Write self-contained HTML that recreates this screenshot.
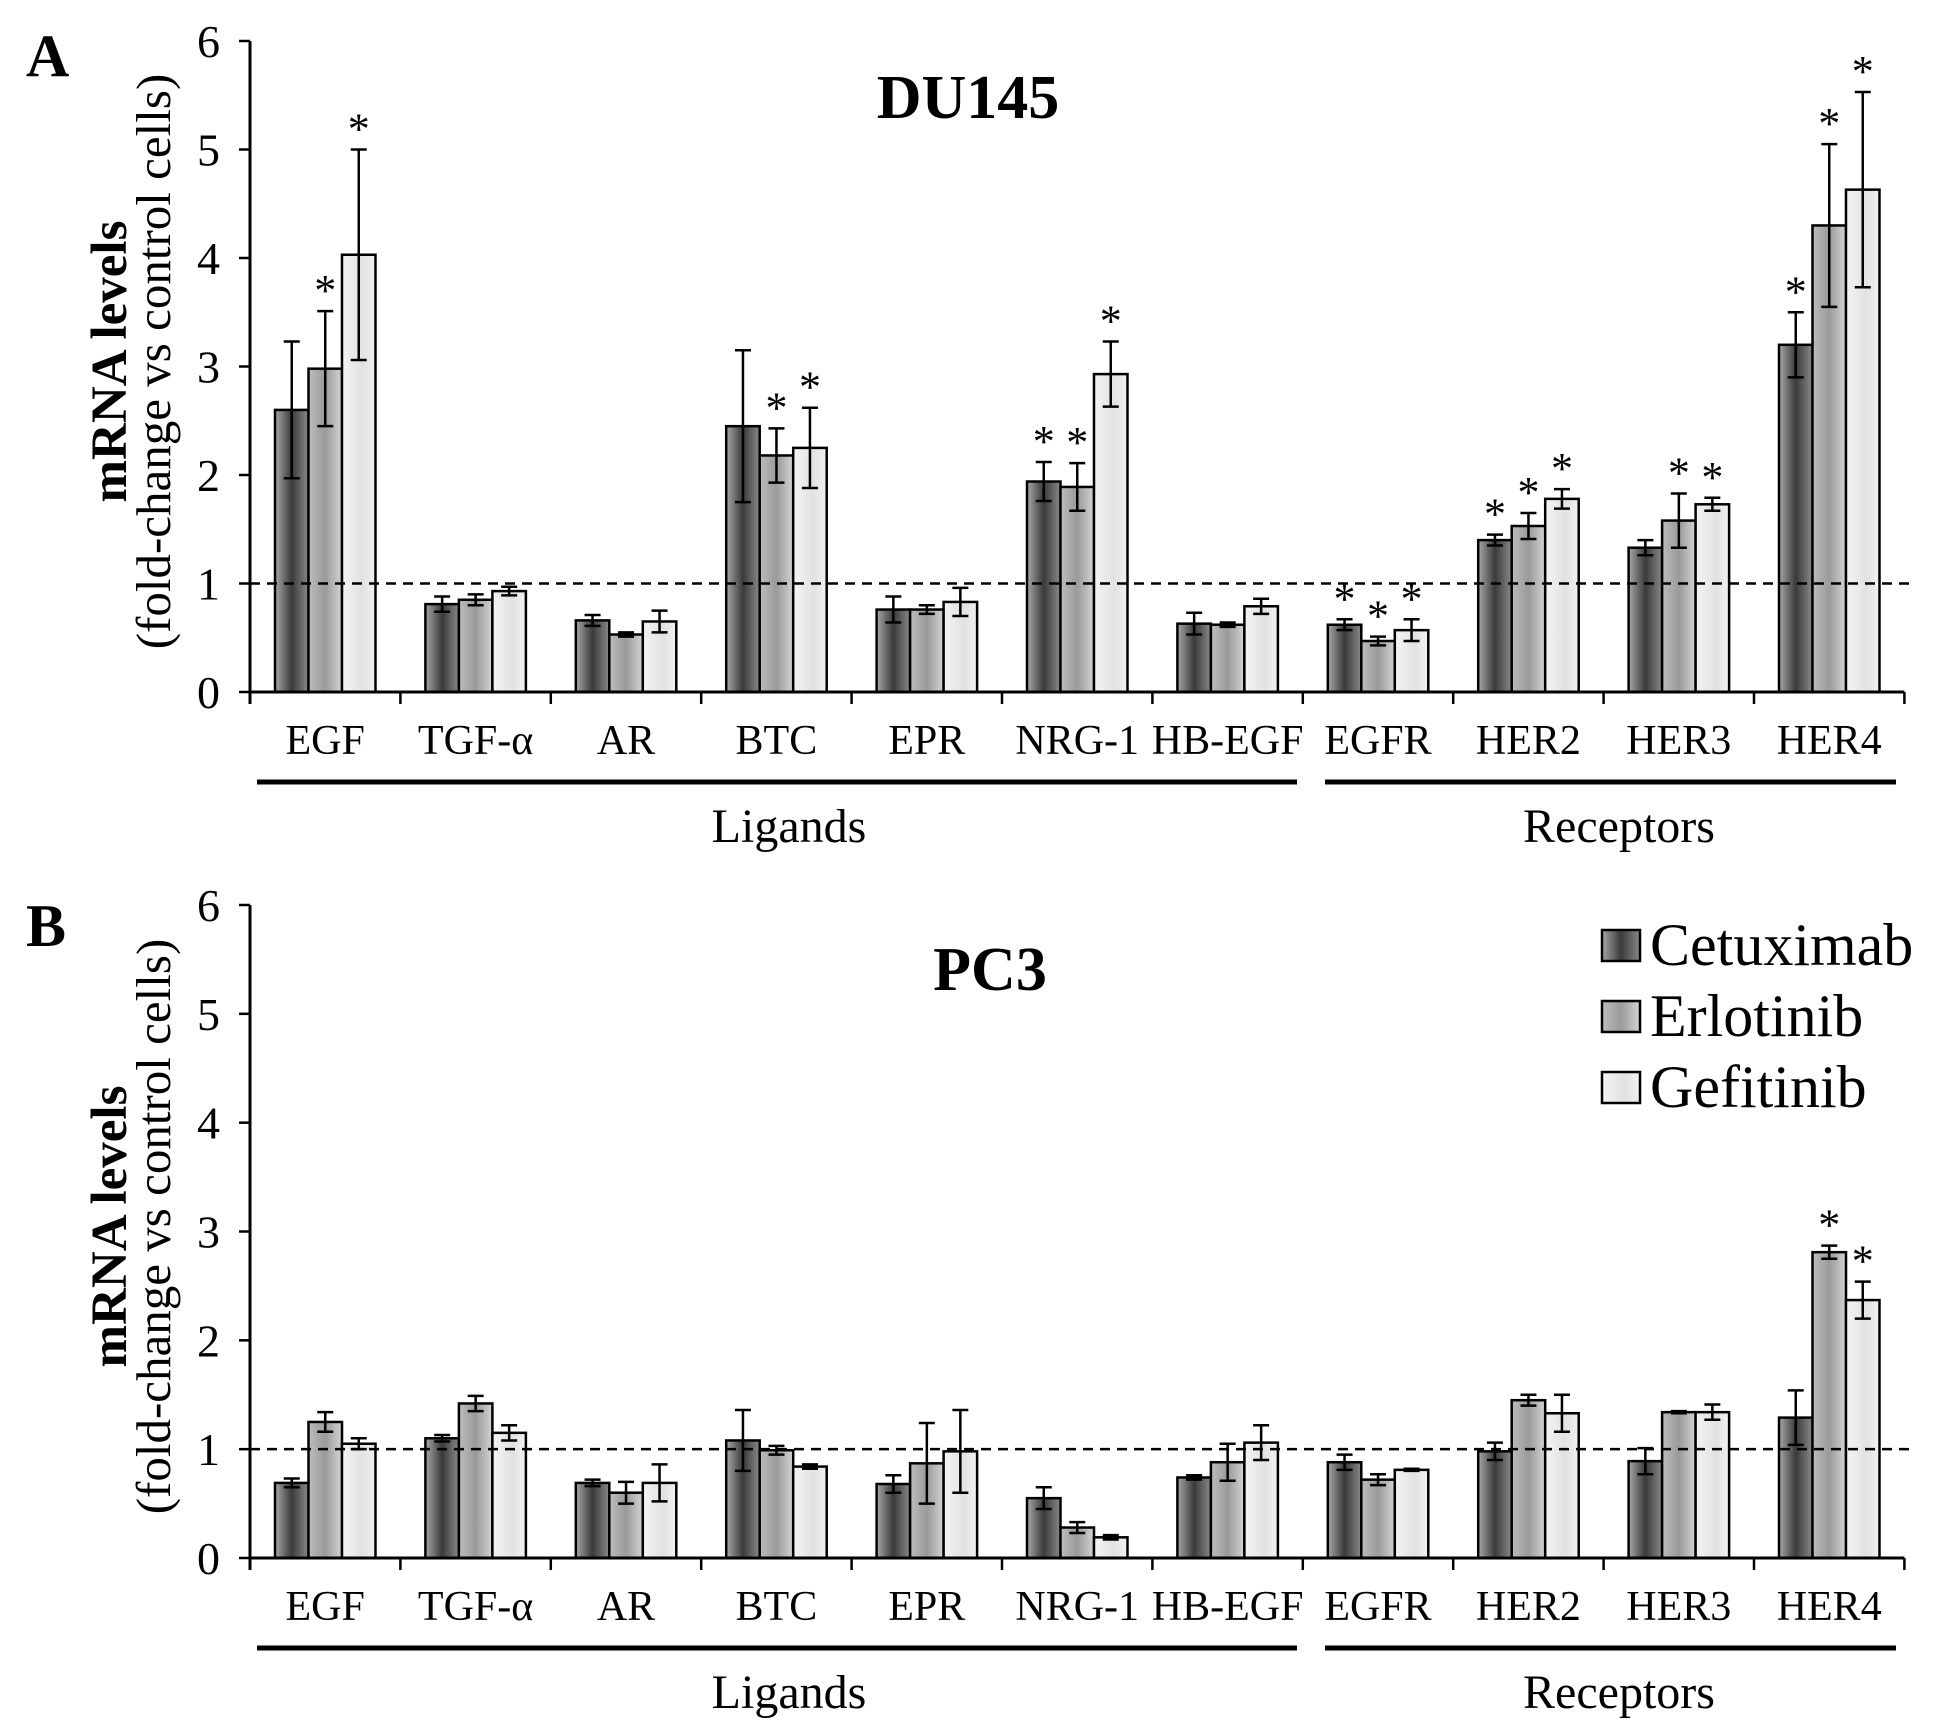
<!DOCTYPE html>
<html><head><meta charset="utf-8"><style>
html,body{margin:0;padding:0;background:#fff;}
svg{display:block;font-family:"Liberation Serif",serif;}
</style></head><body>
<svg id="chart" width="1937" height="1734" viewBox="0 0 1937 1734" xmlns="http://www.w3.org/2000/svg">
<defs>
<linearGradient id="g0" x1="0" x2="1" y1="0" y2="0"><stop offset="0" stop-color="#a8a8a8"/><stop offset="0.5" stop-color="#3a3a3a"/><stop offset="1" stop-color="#8a8a8a"/></linearGradient>
<linearGradient id="g1" x1="0" x2="1" y1="0" y2="0"><stop offset="0" stop-color="#bdbdbd"/><stop offset="0.5" stop-color="#9a9a9a"/><stop offset="1" stop-color="#d4d4d4"/></linearGradient>
<linearGradient id="g2" x1="0" x2="1" y1="0" y2="0"><stop offset="0" stop-color="#f4f4f4"/><stop offset="0.6" stop-color="#e2e2e2"/><stop offset="1" stop-color="#f2f2f2"/></linearGradient>
</defs>
</svg>
<script>
const categories = ["EGF","TGF-α","AR","BTC","EPR","NRG-1","HB-EGF","EGFR","HER2","HER3","HER4"];
const seriesNames = ["Cetuximab","Erlotinib","Gefitinib"];
const yTicks = [0,1,2,3,4,5,6];
const du145Cetuximab = [2.6,0.81,0.66,2.45,0.76,1.94,0.63,0.62,1.4,1.33,3.2];
const du145Erlotinib = [2.98,0.85,0.53,2.18,0.76,1.89,0.62,0.47,1.53,1.58,4.3];
const du145Gefitinib = [4.03,0.93,0.65,2.25,0.83,2.93,0.79,0.57,1.78,1.73,4.63];
const du145ErrC = [0.63,0.07,0.05,0.7,0.12,0.18,0.1,0.05,0.05,0.07,0.3];
const du145ErrE = [0.53,0.05,0.02,0.25,0.04,0.22,0.02,0.04,0.12,0.25,0.75];
const du145ErrG = [0.97,0.04,0.1,0.37,0.13,0.3,0.07,0.1,0.09,0.06,0.9];
const du145StarC = [0,0,0,0,0,1,0,1,1,0,1];
const du145StarE = [1,0,0,1,0,1,0,1,1,1,1];
const du145StarG = [1,0,0,1,0,1,0,1,1,1,1];
const pc3Cetuximab = [0.69,1.1,0.69,1.08,0.68,0.55,0.74,0.88,0.98,0.89,1.29];
const pc3Erlotinib = [1.25,1.42,0.6,0.99,0.87,0.28,0.88,0.72,1.45,1.34,2.81];
const pc3Gefitinib = [1.05,1.15,0.69,0.84,0.98,0.19,1.06,0.81,1.33,1.34,2.37];
const pc3ErrC = [0.04,0.03,0.03,0.28,0.08,0.1,0.02,0.07,0.08,0.12,0.25];
const pc3ErrE = [0.09,0.07,0.1,0.04,0.37,0.05,0.17,0.05,0.05,0.01,0.06];
const pc3ErrG = [0.05,0.07,0.17,0.02,0.38,0.02,0.16,0.01,0.17,0.07,0.17];
const pc3StarC = [0,0,0,0,0,0,0,0,0,0,0];
const pc3StarE = [0,0,0,0,0,0,0,0,0,0,1];
const pc3StarG = [0,0,0,0,0,0,0,0,0,0,1];

const NS="http://www.w3.org/2000/svg";
const svg=document.getElementById('chart');
function mk(tag,attrs,parent){const e=document.createElementNS(NS,tag);for(const k in attrs)e.setAttribute(k,attrs[k]);(parent||svg).appendChild(e);return e;}

const X0=250, CW=150.4, BW=33.5, GOFF=25;
function xCat(i){return X0+i*CW;}

function panel(p){
  const g=mk('g',{});
  
  
  const y=v=>p.y0-(v/6)*(p.y0-p.y6);
  const L=mk('text',{x:26,y:p.letterY,'font-size':60,'font-weight':'bold'},g);L.textContent=p.letter;
  
  
  const T=mk('text',{x:p.titleX,y:p.titleY,'font-size':62,'font-weight':'bold','text-anchor':'middle'},g);T.textContent=p.title;
  
  
  const cy=(p.y0+p.y6)/2;
  const yt1=mk('text',{x:0,y:0,'font-size':51,'font-weight':'bold','text-anchor':'middle',transform:`translate(126,${cy-5}) rotate(-90)`},g);yt1.textContent='mRNA levels';
  
  
  const yt2=mk('text',{x:0,y:0,'font-size':49,'text-anchor':'middle',transform:`translate(170,${cy-5}) rotate(-90)`},g);yt2.textContent='(fold-change vs control cells)';
  
  
  yTicks.forEach(t=>{
    const ln=mk('line',{x1:X0-11,x2:X0,y1:y(t),y2:y(t),stroke:'#000','stroke-width':2.5},g);
    
    
    const tx=mk('text',{x:X0-30,y:y(t)+16,'font-size':46,'text-anchor':'end'},g);tx.textContent=t;
    
    
  });
  const series=[p.c,p.e,p.gf], errs=[p.ec,p.ee,p.eg], stars=[p.sc,p.se,p.sg];
  categories.forEach((c,i)=>{
    for(let s=0;s<3;s++){
      const v=series[s][i], bx=xCat(i)+GOFF+s*BW;
      const r=mk('rect',{x:bx,y:y(v),width:BW,height:p.y0-y(v),fill:`url(#g${s})`,stroke:'#000','stroke-width':2.5},g);
      
      
      const cx=bx+BW/2, e=errs[s][i];
      const eb=mk('path',{d:`M${cx} ${y(v+e)}V${y(v-e)}M${cx-8} ${y(v+e)}H${cx+8}M${cx-8} ${y(v-e)}H${cx+8}`,stroke:'#000','stroke-width':2.5,fill:'none'},g);
      
      
      if(stars[s][i]){
        const st=mk('text',{x:cx,y:y(v+e)-6,'font-size':44,'text-anchor':'middle'},g);st.textContent='*';
        
        
      }
    }
  });
  const d=mk('line',{x1:X0,x2:xCat(11)+5,y1:y(1),y2:y(1),stroke:'#000','stroke-width':2.5,'stroke-dasharray':'10,7'},g);
  
  
  const ax=mk('path',{d:`M${X0} ${p.y6}V${p.y0+12}M${X0} ${p.y0}H${xCat(11)}`,stroke:'#000','stroke-width':3,fill:'none'},g);
  
  
  for(let i=1;i<=11;i++){
    const tk=mk('line',{x1:xCat(i),x2:xCat(i),y1:p.y0,y2:p.y0+12,stroke:'#000','stroke-width':2.5},g);
    
    
  }
  categories.forEach((c,i)=>{
    const t=mk('text',{x:xCat(i)+CW/2,y:p.y0+62,'font-size':42,'text-anchor':'middle'},g);t.textContent=c;
    
    
  });
  const u1=mk('line',{x1:257,x2:1297,y1:p.y0+90,y2:p.y0+90,stroke:'#000','stroke-width':5},g);
  
  
  const u2=mk('line',{x1:1325,x2:1896,y1:p.y0+90,y2:p.y0+90,stroke:'#000','stroke-width':5},g);
  
  
  const gl=mk('text',{x:789,y:p.y0+150,'font-size':48,'text-anchor':'middle'},g);gl.textContent='Ligands';
  
  
  const gr=mk('text',{x:1619,y:p.y0+150,'font-size':48,'text-anchor':'middle'},g);gr.textContent='Receptors';
  
  
}
panel({name:'du145',letter:'A',letterY:76,title:'DU145',titleX:968,titleY:118,y0:692,y6:41,
  c:du145Cetuximab,e:du145Erlotinib,gf:du145Gefitinib,ec:du145ErrC,ee:du145ErrE,eg:du145ErrG,sc:du145StarC,se:du145StarE,sg:du145StarG});
panel({name:'pc3',letter:'B',letterY:946,title:'PC3',titleX:990,titleY:990,y0:1558,y6:905,
  c:pc3Cetuximab,e:pc3Erlotinib,gf:pc3Gefitinib,ec:pc3ErrC,ee:pc3ErrE,eg:pc3ErrG,sc:pc3StarC,se:pc3StarE,sg:pc3StarG});
const lg=mk('g',{});


seriesNames.forEach((n,s)=>{
  const yy=930+s*71;
  const r=mk('rect',{x:1602,y:yy,width:38,height:31,fill:`url(#g${s})`,stroke:'#000','stroke-width':2.5},lg);
  
  
  const t=mk('text',{x:1650,y:yy+35,'font-size':60},lg);t.textContent=n;
  
  
});
</script>
</body></html>
